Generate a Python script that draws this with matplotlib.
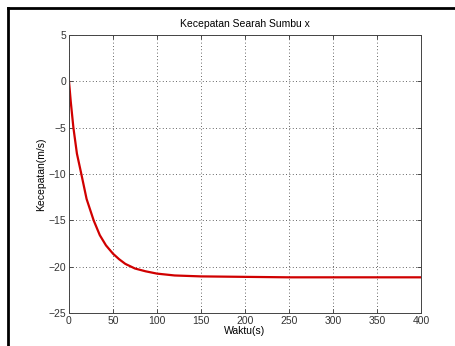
import matplotlib
matplotlib.use("Agg")
import matplotlib.pyplot as plt
from matplotlib.lines import Line2D

plt.rcParams['font.family'] = ['Liberation Sans', 'DejaVu Sans']

title = "Kecepatan Searah Sumbu x"
xlabel = "Waktu(s)"
ylabel = "Kecepatan(m/s)"
time_s = [0, 2, 5, 9, 14, 20, 28, 35, 42, 50, 57, 64, 75, 87, 100, 120, 150, 200, 250, 300, 350, 400]
velocity = [0, -2.2, -5, -7.8, -10, -12.7, -15, -16.6, -17.7, -18.6, -19.2, -19.7, -20.2, -20.5,
            -20.75, -20.95, -21.05, -21.1, -21.15, -21.15, -21.15, -21.15]
xticks = [0, 50, 100, 150, 200, 250, 300, 350, 400]
yticks = [5, 0, -5, -10, -15, -20, -25]

fig = plt.figure(figsize=(4.55, 3.46), dpi=100)
ax = fig.add_axes([69/455, 1-313/346, (421-69)/455, (313-35)/346])
ax.plot(time_s, velocity, color='#d00000', lw=1.6)
ax.set_xlim(0, 400)
ax.set_ylim(-25, 5)
ax.set_xticks(xticks)
ax.set_yticks(yticks)
ax.grid(True, color='#333333', linestyle=(0, (1, 3)), lw=0.6)
ax.tick_params(direction='in', length=3, width=0.6, labelsize=7.5, top=True, right=True, pad=2,
               colors='#333333')
for s in ax.spines.values():
    s.set_color('#444444')
    s.set_linewidth(0.7)
ax.set_title(title, fontsize=7.5, pad=6)
ax.set_xlabel(xlabel, fontsize=7.5, labelpad=0)
ax.set_ylabel(ylabel, fontsize=7.5, labelpad=2)

fig.add_artist(Line2D([8/455, 8/455], [0, 1-8/346], color='black', lw=2, transform=fig.transFigure))
fig.add_artist(Line2D([8/455, 1], [1-8/346, 1-8/346], color='black', lw=2, transform=fig.transFigure))

fig.savefig("out.png", dpi=100)
